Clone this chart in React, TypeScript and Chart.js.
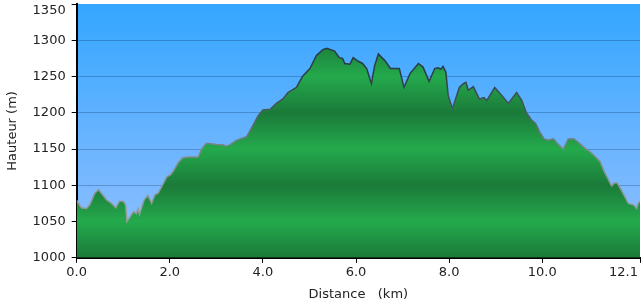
import { useEffect, useRef } from 'react';
import { Chart, registerables } from 'chart.js';

Chart.register(...registerables);

// ---- data ----
const distanceKm = [
  0.0, 0.1, 0.21, 0.28, 0.39, 0.47, 0.53, 0.64, 0.75, 0.84, 0.92, 1.0, 1.05, 1.08,
  1.18, 1.23, 1.28, 1.32, 1.35, 1.45, 1.53, 1.61, 1.68, 1.75, 1.85, 1.94, 2.01, 2.07,
  2.18, 2.28, 2.39, 2.61, 2.68, 2.79, 3.04, 3.14, 3.2, 3.27, 3.43, 3.65, 3.79, 3.9,
  4.0, 4.16, 4.29, 4.43, 4.54, 4.72, 4.85, 5.01, 5.15, 5.29, 5.37, 5.54, 5.64, 5.71,
  5.76, 5.87, 5.94, 6.05, 6.14, 6.23, 6.33, 6.4, 6.48, 6.57, 6.62, 6.74, 6.93, 7.03,
  7.16, 7.34, 7.44, 7.57, 7.69, 7.76, 7.82, 7.87, 7.93, 7.98, 8.07, 8.22, 8.3, 8.36,
  8.41, 8.52, 8.65, 8.75, 8.81, 8.98, 9.13, 9.27, 9.45, 9.56, 9.66, 9.77, 9.86, 9.94,
  10.04, 10.13, 10.24, 10.32, 10.45, 10.56, 10.68, 10.8, 10.92, 11.03, 11.13, 11.24,
  11.33, 11.49, 11.55, 11.61, 11.71, 11.85, 11.96, 12.03, 12.06, 12.1,
];
const elevationM = [
  1079, 1069, 1068, 1073, 1089, 1094, 1089, 1080, 1075, 1069, 1078, 1078, 1073, 1050,
  1060, 1064, 1061, 1068, 1060, 1080, 1086, 1075, 1087, 1089, 1101, 1112, 1114, 1119,
  1131, 1138, 1139, 1139, 1150, 1158, 1156, 1156, 1154, 1155, 1162, 1167, 1183, 1196,
  1204, 1205, 1213, 1219, 1228, 1235, 1250, 1261, 1279, 1287, 1289, 1285, 1276, 1275,
  1268, 1267, 1276, 1271, 1268, 1261, 1240, 1265, 1281, 1275, 1272, 1261, 1261, 1235,
  1254, 1268, 1263, 1243, 1261, 1262, 1260, 1264, 1256, 1224, 1206, 1235, 1240, 1242,
  1231, 1236, 1219, 1221, 1217, 1235, 1224, 1213, 1228, 1217, 1200, 1190, 1185, 1174,
  1164, 1162, 1164, 1158, 1150, 1164, 1164, 1158, 1151, 1146, 1140, 1133,
  1119, 1099, 1103, 1103, 1092, 1075, 1073, 1068, 1075, 1078,
];
const xTickValues = [0, 2, 4, 6, 8, 10, 12.1];
const yMin = 1000;
const yMax = 1350;
const yStep = 50;
const xTitle = 'Distance   (km)';
const yTitle = 'Hauteur (m)';

const FONT = 'DejaVu Sans';
const FONT_SIZE = 13;
const TEXT = '#222222';
const GREEN_BRIGHT = '#24a94c';
const GREEN_DARK = '#1b7a39';

const plotBackground = {
  id: 'plotBackground',
  beforeDraw(chart: any) {
    const { ctx, chartArea: a } = chart;
    if (!a) return;
    const g = ctx.createLinearGradient(0, a.top, 0, a.bottom);
    g.addColorStop(0, '#34a6ff');
    g.addColorStop(1, '#96c0ff');
    ctx.save();
    ctx.fillStyle = g;
    ctx.fillRect(a.left, a.top, a.right - a.left, a.bottom - a.top);
    ctx.restore();
  },
};

function fillGradient(c: any) {
  const chart = c.chart;
  if (!chart.chartArea) return GREEN_BRIGHT;
  const y = chart.scales.y;
  const p0 = y.getPixelForValue(yMin);
  const p1 = y.getPixelForValue(yMax);
  const g = chart.ctx.createLinearGradient(0, p0, 0, p1);
  for (let v = yMin; v <= yMax; v += yStep) {
    const t = (v - yMin) / (yMax - yMin);
    g.addColorStop(t, Math.round((v - yMin) / yStep) % 2 === 0 ? GREEN_DARK : GREEN_BRIGHT);
  }
  return g;
}

function strokeGradient(c: any) {
  const chart = c.chart;
  if (!chart.chartArea) return '#555';
  const y = chart.scales.y;
  const p0 = y.getPixelForValue(yMin);
  const p1 = y.getPixelForValue(yMax);
  const g = chart.ctx.createLinearGradient(0, p0, 0, p1);
  g.addColorStop(0, '#a0a8a8');
  g.addColorStop(150 / 350, '#7f8a8a');
  g.addColorStop(200 / 350, '#4a5a62');
  g.addColorStop(250 / 350, '#2c3e4a');
  g.addColorStop(1, '#1e3040');
  return g;
}

export default function App() {
  const ref = useRef<HTMLCanvasElement | null>(null);

  useEffect(() => {
    if (!ref.current) return;
    const chart = new Chart(ref.current, {
      type: 'line',
      data: {
        datasets: [
          {
            data: distanceKm.map((d, i) => ({ x: d, y: elevationM[i] })),
            fill: 'start',
            backgroundColor: fillGradient,
            borderColor: strokeGradient,
            borderWidth: 1.5,
            pointRadius: 0,
            tension: 0,
          },
        ],
      },
      options: {
        animation: false,
        responsive: false,
        events: [],
        layout: { padding: 0 },
        plugins: { legend: { display: false }, tooltip: { enabled: false } },
        scales: {
          x: {
            type: 'linear',
            min: 0,
            max: 12.1,
            afterBuildTicks: (s: any) => {
              s.ticks = xTickValues.map((v) => ({ value: v }));
            },
            afterFit: (s: any) => {
              s.paddingRight = 3;
            },
            ticks: {
              padding: 2,
              color: TEXT,
              font: { family: FONT, size: FONT_SIZE },
              maxRotation: 0,
              autoSkip: false,
              callback: (v: any) => {
                const n = Number(v);
                const s = n.toFixed(1);
                return n === xTickValues[xTickValues.length - 1] ? s + ' '.repeat(8) : s;
              },
            },
            grid: { drawOnChartArea: false, drawTicks: true, tickLength: 5, tickColor: '#000' },
            border: { color: '#000', width: 2 },
            title: {
              display: true,
              text: xTitle,
              color: TEXT,
              font: { family: FONT, size: FONT_SIZE },
              padding: { top: 4, bottom: 4 },
            },
          },
          y: {
            min: yMin,
            max: yMax,
            z: 1,
            afterFit: (s: any) => {
              s.paddingTop = 4;
            },
            ticks: {
              stepSize: yStep,
              padding: 6,
              color: TEXT,
              font: { family: FONT, size: FONT_SIZE, lineHeight: 1 },
              callback: (v: any) => (Number(v) === yMax ? ['', String(v)] : String(v)),
            },
            grid: {
              color: (c: any) =>
                c.tick && (c.tick.value === yMin || c.tick.value === yMax)
                  ? 'rgba(0,0,0,0)'
                  : 'rgba(10,40,90,0.28)',
              lineWidth: 1,
              tickLength: 5,
              tickColor: '#000',
            },
            border: { color: '#000', width: 2 },
            title: {
              display: true,
              text: yTitle,
              color: TEXT,
              font: { family: FONT, size: FONT_SIZE },
              padding: { top: 5, bottom: 6 },
            },
          },
        },
      },
      plugins: [plotBackground],
    } as any);
    return () => chart.destroy();
  }, []);

  return (
    <div style={{ position: 'fixed', left: 0, top: 0, width: 643, height: 306, background: '#fff' }}>
      <canvas ref={ref} width={643} height={306} style={{ display: 'block' }} />
    </div>
  );
}
